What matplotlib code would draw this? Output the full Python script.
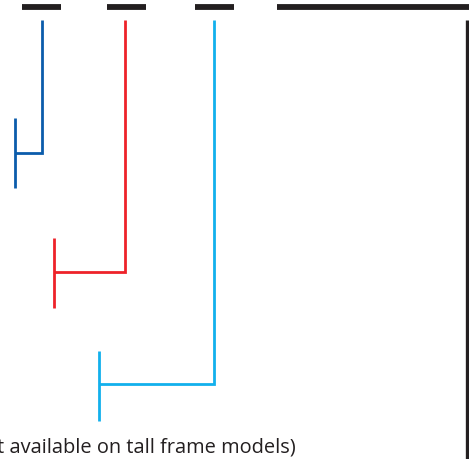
import matplotlib
matplotlib.use("Agg")
import matplotlib.pyplot as plt

# top black dashes (pixel coords of the cropped drawing)
dash_start = [22, 107, 195, 277]
dash_end = [61, 146, 234, 470]
dash_y = 8

# leader brackets
leader_x = [42, 125, 214]
leader_top = 21
elbow_y = [154, 273, 385]
bar_x = [15, 54, 99]
bar_top = [119, 239, 352]
bar_bottom = [189, 309, 422]
leader_colors = ["#0B5CAB", "#EE2229", "#12B0EC"]

# frame edge on the right
edge_x = 467

note = "(not available on tall frame models)"

fig = plt.figure(figsize=(4.69, 4.60), dpi=100)
ax = fig.add_axes([0, 0, 1, 1])
ax.set_xlim(0, 469)
ax.set_ylim(460, 0)
ax.axis("off")

for x0, x1 in zip(dash_start, dash_end):
    ax.plot([x0, x1], [dash_y, dash_y], color="#231F20", lw=4.2,
            solid_capstyle="butt")

for lx, ey, bx, bt, bb, c in zip(leader_x, elbow_y, bar_x, bar_top,
                                  bar_bottom, leader_colors):
    ax.plot([lx, lx, bx], [leader_top, ey, ey], color=c, lw=2.0,
            solid_capstyle="butt", solid_joinstyle="miter")
    ax.plot([bx, bx], [bt, bb], color=c, lw=2.0, solid_capstyle="butt")

ax.plot([edge_x, edge_x], [leader_top, 462], color="#231F20", lw=2.4,
        solid_capstyle="butt")

# the note is cut at the left edge in the reference crop as well
ax.text(296, 448, note, ha="right", va="center", fontsize=14.4,
        family="Open Sans", color="#231F20")

fig.savefig("out.png", dpi=100)
